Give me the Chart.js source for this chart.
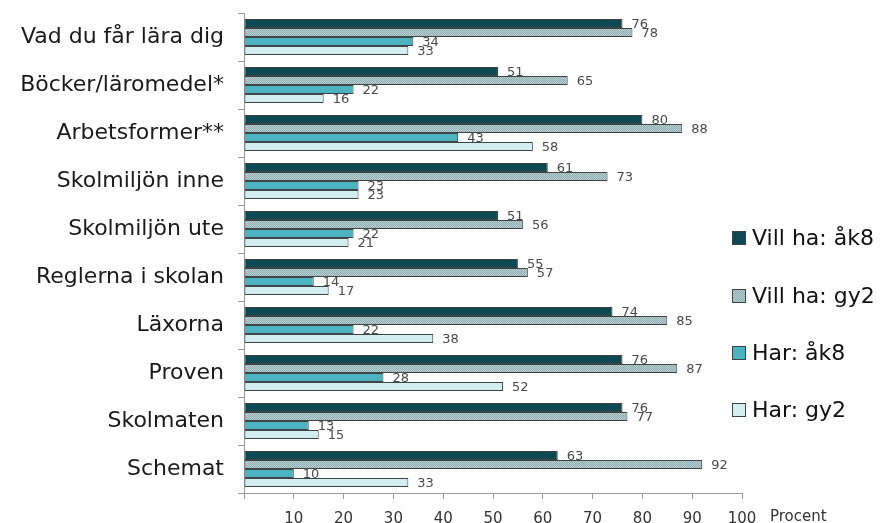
<!DOCTYPE html>
<html>
<head>
<meta charset="utf-8">
<script src="https://cdn.jsdelivr.net/npm/chart.js@4/dist/chart.umd.min.js"></script>
<style>
  body { margin: 0; background: #fff; }
  #wrap { width: 883px; height: 523px; }
</style>
</head>
<body>
<div id="wrap"><canvas id="chart" width="883" height="523"></canvas></div>
<script>
const categories = ['Vad du får lära dig', 'Böcker/läromedel*', 'Arbetsformer**', 'Skolmiljön inne',
  'Skolmiljön ute', 'Reglerna i skolan', 'Läxorna', 'Proven', 'Skolmaten', 'Schemat'];
const seriesNames = ['Vill ha: åk8', 'Vill ha: gy2', 'Har: åk8', 'Har: gy2'];
const villHaAk8 = [76, 51, 80, 61, 51, 55, 74, 76, 76, 63];
const villHaGy2 = [78, 65, 88, 73, 56, 57, 85, 87, 77, 92];
const harAk8 = [34, 22, 43, 23, 22, 14, 22, 28, 13, 10];
const harGy2 = [33, 16, 58, 23, 21, 17, 38, 52, 15, 33];
const xTicks = [0, 10, 20, 30, 40, 50, 60, 70, 80, 90, 100];

const FONT = "'DejaVu Sans', Verdana, sans-serif";

// dotted fill for the "Vill ha: gy2" series
function makePattern() {
  const c = document.createElement('canvas');
  c.width = 2; c.height = 2;
  const g = c.getContext('2d');
  g.fillStyle = '#b9d0d3';
  g.fillRect(0, 0, 2, 2);
  g.fillStyle = '#8faeb3';
  g.fillRect(0, 0, 1, 1);
  g.fillRect(1, 1, 1, 1);
  return g.createPattern(c, 'repeat');
}
const dotted = makePattern();

const fills = ['#0f4752', dotted, '#4db2bf', '#d3eef1'];
const values = [villHaAk8, villHaGy2, harAk8, harGy2];

const datasets = values.map((v, i) => ({
  label: seriesNames[i],
  data: v,
  backgroundColor: fills[i],
  borderColor: '#3d4446',
  borderWidth: 1,
  borderSkipped: false,
  categoryPercentage: 0.75,
  barPercentage: 1.0
}));

// value labels next to each bar, legend at the right and "Procent"
const extras = {
  id: 'extras',
  afterDatasetsDraw(chart) {
    const ctx = chart.ctx;
    ctx.save();
    ctx.font = '13px ' + FONT;
    ctx.fillStyle = '#4a4a4a';
    ctx.textBaseline = 'middle';
    ctx.textAlign = 'left';
    chart.data.datasets.forEach((ds, i) => {
      chart.getDatasetMeta(i).data.forEach((bar, j) => {
        ctx.fillText(String(ds.data[j]), bar.x + 9, bar.y + 1);
      });
    });

    // legend
    const ys = [238, 296, 353, 410];
    ctx.font = '22px ' + FONT;
    seriesNames.forEach((name, i) => {
      ctx.fillStyle = fills[i];
      ctx.fillRect(732, ys[i] - 7, 14, 14);
      ctx.strokeStyle = '#3d4446';
      ctx.lineWidth = 1;
      ctx.strokeRect(732.5, ys[i] - 6.5, 13, 13);
      ctx.fillStyle = '#111';
      ctx.fillText(name, 752, ys[i] + 1);
    });

    // axis unit
    ctx.font = '15px ' + FONT;
    ctx.fillStyle = '#333';
    ctx.fillText('Procent', 770, 517);
    ctx.restore();
  }
};

new Chart(document.getElementById('chart'), {
  type: 'bar',
  data: { labels: categories, datasets: datasets },
  options: {
    indexAxis: 'y',
    responsive: false,
    animation: false,
    layout: { padding: { top: 13, right: 141, left: 0, bottom: 0 } },
    plugins: {
      legend: { display: false },
      tooltip: { enabled: false }
    },
    scales: {
      x: {
        min: 0,
        max: 100,
        afterBuildTicks: (scale) => { scale.ticks = xTicks.map(v => ({ value: v })); },
        afterFit: (scale) => { scale.height = 30; },
        grid: { drawOnChartArea: false, tickLength: 6, color: '#999' },
        border: { color: '#999', width: 1 },
        ticks: {
          color: '#333',
          font: { family: FONT, size: 15 },
          padding: 11,
          maxRotation: 0,
          callback: (v) => v === 0 ? '' : v
        }
      },
      y: {
        afterFit: (scale) => {
          scale.width = 244;
          scale.paddingTop = 0;
          scale.paddingBottom = 0;
        },
        grid: { drawOnChartArea: false, offset: true, tickLength: 6, color: '#999' },
        border: { color: '#999', width: 1 },
        ticks: {
          color: '#1a1a1a',
          font: { family: FONT, size: 22 },
          padding: 14
        }
      }
    }
  },
  plugins: [extras]
});
</script>
</body>
</html>
